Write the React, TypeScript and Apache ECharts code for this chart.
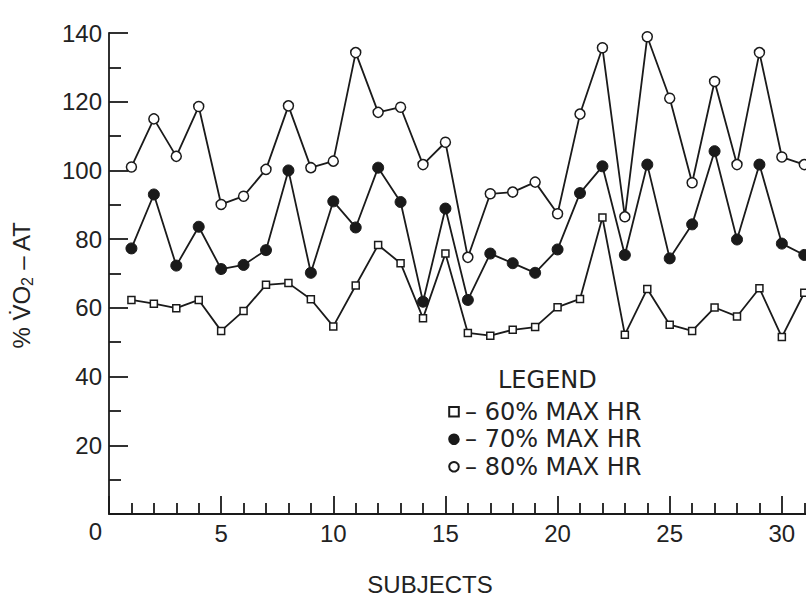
import React, { useEffect, useRef } from "react";
import * as echarts from "echarts";

const subjects = [1, 2, 3, 4, 5, 6, 7, 8, 9, 10, 11, 12, 13, 14, 15, 16, 17, 18, 19, 20, 21, 22, 23, 24, 25, 26, 27, 28, 29, 30, 31];
const hr60 = [62.3, 61.2, 59.9, 62.3, 53.3, 59.1, 66.7, 67.2, 62.5, 54.6, 66.5, 78.3, 73.0, 57.0, 75.8, 52.7, 51.9, 53.6, 54.4, 60.2, 62.6, 86.3, 52.2, 65.5, 55.1, 53.3, 60.1, 57.5, 65.7, 51.5, 64.4];
const hr70 = [77.3, 93.0, 72.3, 83.6, 71.3, 72.5, 76.8, 100.0, 70.2, 91.0, 83.4, 100.8, 90.8, 61.8, 88.9, 62.3, 75.8, 73.0, 70.2, 77.0, 93.4, 101.2, 75.4, 101.7, 74.4, 84.3, 105.6, 79.9, 101.7, 78.7, 75.4];
const hr80 = [101.0, 115.0, 104.1, 118.6, 90.1, 92.5, 100.3, 118.8, 100.8, 102.7, 134.3, 116.9, 118.4, 101.7, 108.2, 74.7, 93.2, 93.7, 96.6, 87.4, 116.4, 135.7, 86.5, 138.9, 121.0, 96.4, 125.9, 101.7, 134.3, 103.9, 101.7];
const seriesNames = ["60% MAX HR", "70% MAX HR", "80% MAX HR"];
const yTicks = [0, 20, 40, 60, 80, 100, 120, 140];
const xLabelTicks = [0, 5, 10, 15, 20, 25, 30];

const INK = "#1a1a1a";
const NUM_FONT = "Liberation Sans";
const TXT_FONT = "DejaVu Sans";

export default function App() {
  const ref = useRef<HTMLDivElement>(null);
  useEffect(() => {
    if (!ref.current) return;
    const chart = echarts.init(ref.current, undefined, { renderer: "svg" });
    const pts = (vals: number[]) => subjects.map((s, i) => [s, vals[i]]);
    const lineCommon = {
      type: "line",
      lineStyle: { color: INK, width: 1.8 },
      emphasis: { disabled: true },
      z: 3,
    };
    chart.setOption({
      animation: false,
      backgroundColor: "#fff",
      grid: { left: 109, top: 33, bottom: 83, width: 785, containLabel: false, outerBoundsMode: "none" },
      legend: {
        orient: "vertical",
        left: 447,
        top: 398,
        itemWidth: 12,
        itemHeight: 12,
        itemGap: 0,
        padding: 0,
        selectedMode: false,
        lineStyle: { opacity: 0 },
        formatter: (name: string) => "\u2013 " + name,
        textStyle: { fontFamily: TXT_FONT, fontSize: 24, lineHeight: 27.5, color: "#222" },
        data: seriesNames,
      },
      xAxis: {
        type: "value",
        min: 0,
        max: 35,
        interval: 5,
        axisLine: { show: true, lineStyle: { color: INK, width: 1.8 } },
        axisTick: { show: true, inside: true, length: 18, lineStyle: { color: INK, width: 1.8 } },
        minorTick: { show: true, splitNumber: 5, length: 11, lineStyle: { color: INK, width: 1.8 } },
        splitLine: { show: false },
        axisLabel: {
          margin: 7,
          fontFamily: NUM_FONT,
          fontSize: 24,
          color: "#222",
          formatter: (v: number) => (v !== 0 && xLabelTicks.indexOf(v) >= 0 ? String(v) : ""),
        },
      },
      yAxis: {
        type: "value",
        min: 0,
        max: 140,
        interval: 20,
        axisLine: { show: true, lineStyle: { color: INK, width: 1.8 } },
        axisTick: { show: true, inside: true, length: 19, lineStyle: { color: INK, width: 1.8 } },
        minorTick: { show: true, splitNumber: 2, length: 12, lineStyle: { color: INK, width: 1.8 } },
        splitLine: { show: false },
        axisLabel: {
          margin: 7,
          fontFamily: NUM_FONT,
          fontSize: 24,
          color: "#222",
          padding: [0, 0, 9, 0],
          formatter: (v: number) => (v !== 0 && yTicks.indexOf(v) >= 0 ? String(v) : ""),
        },
      },
      graphic: [
        {
          type: "text",
          x: 95.5,
          y: 531,
          style: { text: "0", fontFamily: NUM_FONT, fontSize: 24, fill: "#222", align: "center", verticalAlign: "middle" },
        },
        {
          type: "text",
          x: 430,
          y: 584,
          style: { text: "SUBJECTS", fontFamily: NUM_FONT, fontSize: 24, fill: "#222", align: "center", verticalAlign: "middle" },
        },
        {
          type: "text",
          x: 498,
          y: 380,
          style: { text: "LEGEND", fontFamily: TXT_FONT, fontSize: 24, fill: "#222", align: "left", verticalAlign: "middle" },
        },
        {
          type: "text",
          x: 21,
          y: 285,
          rotation: Math.PI / 2,
          style: {
            text: "{a|% V\u0307O}{b|2}{a| \u2013 AT}",
            fontFamily: NUM_FONT,
            fontSize: 24,
            fill: "#222",
            align: "center",
            verticalAlign: "middle",
            rich: {
              a: { fontFamily: NUM_FONT, fontSize: 24, fill: "#222", lineHeight: 28 },
              b: { fontFamily: NUM_FONT, fontSize: 16, fill: "#222", lineHeight: 10, verticalAlign: "bottom" },
            },
          },
        },
      ],
      series: [
        {
          ...lineCommon,
          name: seriesNames[0],
          data: pts(hr60),
          symbol: "rect",
          symbolSize: 7,
          itemStyle: { color: "#fff", borderColor: INK, borderWidth: 1.5 },
        },
        {
          ...lineCommon,
          name: seriesNames[1],
          data: pts(hr70),
          symbol: "circle",
          symbolSize: 11,
          itemStyle: { color: INK, borderColor: INK, borderWidth: 1 },
        },
        {
          ...lineCommon,
          name: seriesNames[2],
          data: pts(hr80),
          symbol: "circle",
          symbolSize: 10,
          itemStyle: { color: "#fff", borderColor: INK, borderWidth: 1.5 },
        },
      ],
    });
    return () => chart.dispose();
  }, []);
  return (
    <div
      ref={ref}
      style={{ position: "fixed", left: 0, top: 0, width: 806, height: 597, background: "#fff" }}
    />
  );
}
